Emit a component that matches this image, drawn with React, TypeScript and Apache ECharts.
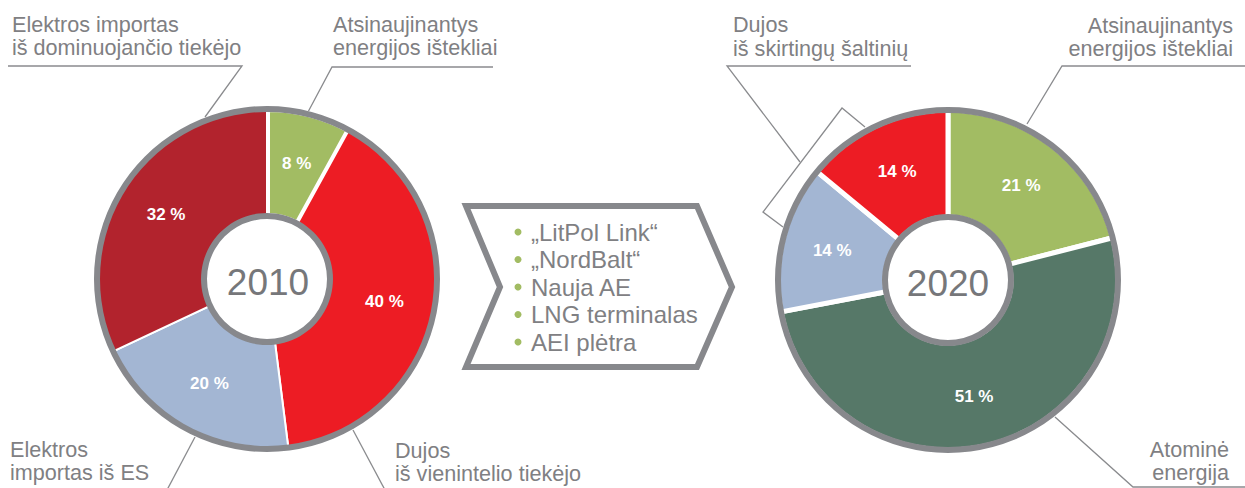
import React, { useEffect, useRef } from "react";
import * as echarts from "echarts";

// ---- data ----
const categories2010 = [
  "Atsinaujinantys energijos ištekliai",
  "Dujos iš vienintelio tiekėjo",
  "Elektros importas iš ES",
  "Elektros importas iš dominuojančio tiekėjo",
];
const values2010 = [8, 40, 20, 32];

const categories2020 = [
  "Atsinaujinantys energijos ištekliai",
  "Atominė energija",
  "Elektros importas iš ES",
  "Dujos iš skirtingų šaltinių",
];
const values2020 = [21, 51, 14, 14];

const years = ["2010", "2020"];
const projects = ["„LitPol Link“", "„NordBalt“", "Nauja AE", "LNG terminalas", "AEI plėtra"];

// ---- style ----
const FONT = '"Liberation Sans", Arial, Helvetica, sans-serif';
const GRAY = "#87888c";
const TEXT = "#7f8083";
const LINE = "#8a8b8e";
const colors2010 = ["#a2bc63", "#ed1c24", "#a3b6d3", "#b2232d"];
const colors2020 = ["#a2bc63", "#567868", "#a3b6d3", "#ed1c24"];
const borders2010 = [6, 2, 2, 2];
const borders2020 = [5, 5, 5, 5];
const LBL = 21.6;

const LEFT_C = [267, 279];
const RIGHT_C = [948, 280];

function pieSeries(center: number[], cats: string[], vals: number[], cols: string[], borders: number[]) {
  return [
    {
      type: "pie",
      center,
      radius: [63, 170],
      startAngle: 90,
      clockwise: true,
      silent: true,
      z: 2,
      avoidLabelOverlap: false,
      itemStyle: { borderColor: "#ffffff" },
      label: {
        show: true,
        position: "inside",
        formatter: "{c} %",
        color: "#ffffff",
        fontWeight: "bold",
        fontSize: 17,
        fontFamily: FONT,
      },
      labelLine: { show: false },
      data: vals.map((v, i) => ({
        name: cats[i],
        value: v,
        itemStyle: { color: cols[i], borderWidth: borders[i] },
      })),
    },
    {
      type: "pie",
      center,
      radius: [167, 173],
      silent: true,
      z: 3,
      label: { show: false },
      labelLine: { show: false },
      data: [{ value: 1, name: "ring", itemStyle: { color: GRAY } }],
    },
    {
      type: "pie",
      center,
      radius: [60, 66],
      silent: true,
      z: 3,
      label: { show: false },
      labelLine: { show: false },
      data: [{ value: 1, name: "inner", itemStyle: { color: GRAY } }],
    },
  ];
}

function txt(text: string, x: number, baseline: number, size: number, align = "left", fill = TEXT) {
  return {
    type: "text",
    z: 10,
    x,
    y: baseline - size * 0.35,
    style: {
      text,
      fill,
      font: `${size}px ${FONT}`,
      textAlign: align,
      textVerticalAlign: "middle",
    },
  };
}

function line(points: number[][]) {
  return {
    type: "polyline",
    z: 1,
    shape: { points },
    style: { stroke: LINE, lineWidth: 1.3, fill: "none" },
  };
}

export default function App() {
  const ref = useRef<HTMLDivElement>(null);
  useEffect(() => {
    document.body.style.margin = "0";
    const chart = echarts.init(ref.current!, null, { renderer: "svg" });

    const graphics: any[] = [
      // 2010 labels
      txt("Elektros importas", 12, 32, LBL),
      txt("iš dominuojančio tiekėjo", 12, 55, LBL),
      line([[8, 66], [242, 66], [205, 117]]),
      txt("Atsinaujinantys", 333, 32, LBL),
      txt("energijos ištekliai", 333, 55, LBL),
      line([[493, 67], [332, 67], [308, 112]]),
      txt("Elektros", 10, 457, LBL),
      txt("importas iš ES", 10, 480, LBL),
      line([[195, 437], [167, 490]]),
      txt("Dujos", 395, 458, LBL),
      txt("iš vienintelio tiekėjo", 395, 481, LBL),
      line([[353, 430], [385, 490]]),
      // 2020 labels
      txt("Dujos", 733, 32, LBL),
      txt("iš skirtingų šaltinių", 733, 56, LBL),
      line([[911, 66], [727, 66], [800, 162]]),
      line([[865, 127], [842, 108], [763, 212], [783, 227]]),
      txt("Atsinaujinantys", 1233, 33, LBL, "right"),
      txt("energijos ištekliai", 1233, 56, LBL, "right"),
      line([[1245, 66], [1062, 66], [1027, 124]]),
      txt("Atominė", 1229, 457, LBL, "right"),
      txt("energija", 1229, 480.5, LBL, "right"),
      line([[1055, 417], [1133, 487], [1245, 487]]),
      // years
      txt(years[0], LEFT_C[0] + 1, 282 + 37 * 0.35, 37, "center", "#76777a"),
      txt(years[1], RIGHT_C[0], 283 + 37 * 0.35, 37, "center", "#76777a"),
      // chevron
      {
        type: "polygon",
        z: 1,
        shape: {
          points: [[466, 206], [697, 206], [732, 287], [697, 367], [466, 367], [500, 287]],
        },
        style: { fill: "#ffffff", stroke: GRAY, lineWidth: 6, lineJoin: "miter" },
      },
    ];
    projects.forEach((p, i) => {
      const cy = 232 + i * 27.5;
      graphics.push({
        type: "circle",
        z: 10,
        shape: { cx: 518, cy, r: 3.5 },
        style: { fill: "#a2bc63" },
      });
      graphics.push({
        type: "text",
        z: 10,
        x: 531,
        y: cy,
        style: {
          text: p,
          fill: TEXT,
          font: `24px ${FONT}`,
          textAlign: "left",
          textVerticalAlign: "middle",
        },
      });
    });

    chart.setOption({
      animation: false,
      backgroundColor: "#ffffff",
      series: [
        ...pieSeries(LEFT_C, categories2010, values2010, colors2010, borders2010),
        ...pieSeries(RIGHT_C, categories2020, values2020, colors2020, borders2020),
      ],
      graphic: { elements: graphics },
    });
    return () => chart.dispose();
  }, []);
  return <div ref={ref} style={{ width: 1245, height: 488 }} />;
}
